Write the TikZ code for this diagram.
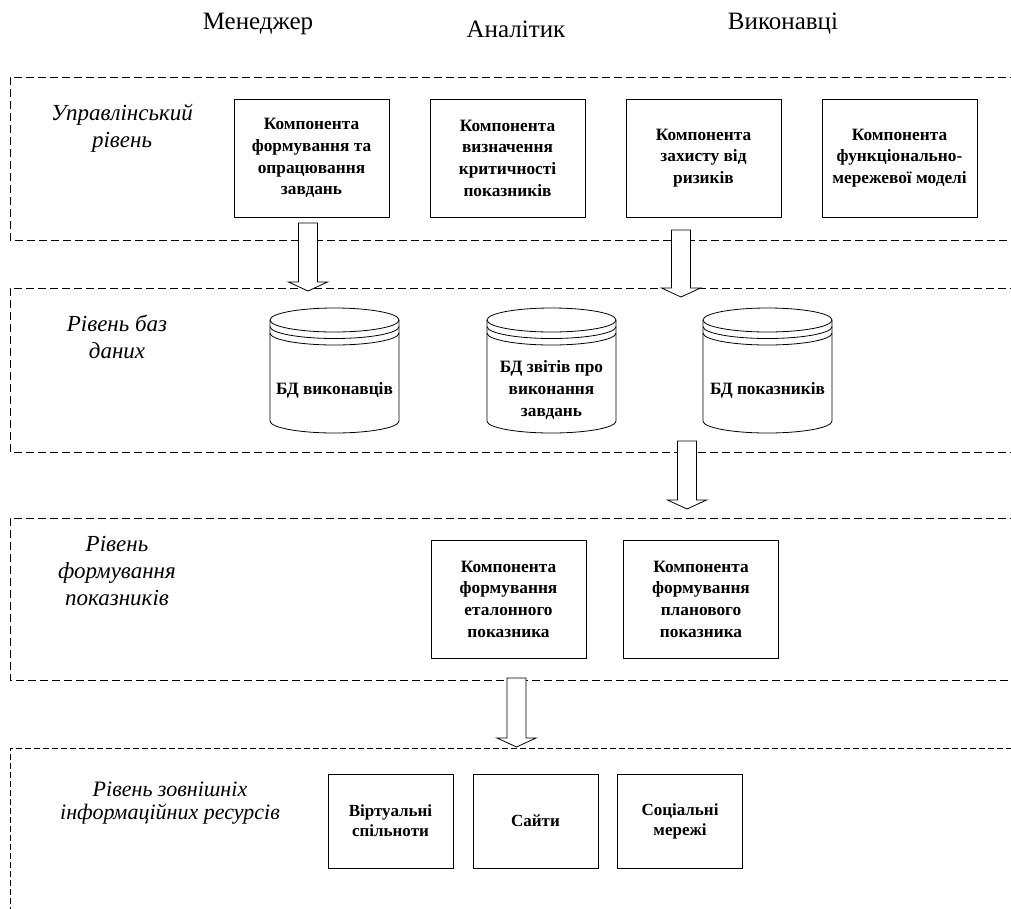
\documentclass[tikz,border=0pt]{standalone}
\usepackage{fontspec}
\setmainfont{Liberation Serif}
\usetikzlibrary{calc}
\newcommand\blkarrow[2]{%
  \draw[blockarr] let \p1=(#1), \p2=(#2) in
    (\x1-9.5pt,\y1) -- (\x1+9.5pt,\y1) -- (\x1+9.5pt,\y2+9pt) -- (\x1+19.5pt,\y2+9pt)
    -- (\x2,\y2) -- (\x1-19.5pt,\y2+9pt) -- (\x1-9.5pt,\y2+9pt) -- cycle;}
\begin{document}
\begin{tikzpicture}[x=1pt,y=-1pt,
  layer/.style={dash pattern=on 8pt off 4pt, line width=0.8pt},
  layerfine/.style={dash pattern=on 6pt off 3pt, line width=0.7pt},
  comp/.style={draw, line width=0.8pt, minimum width=155pt, minimum height=118pt,
    align=center, inner sep=0pt, font=\fontsize{17.3pt}{21.7pt}\selectfont\bfseries},
  small/.style={draw, line width=0.8pt, minimum width=125pt, minimum height=94pt,
    align=center, inner sep=0pt, font=\fontsize{17pt}{20pt}\selectfont\bfseries},
  dbtext/.style={align=center, inner sep=0pt, font=\fontsize{17.3pt}{21.7pt}\selectfont\bfseries},
  lab/.style={align=center, inner sep=0pt, font=\fontsize{23pt}{27pt}\selectfont\itshape},
  labfine/.style={align=center, inner sep=0pt, font=\fontsize{22pt}{23pt}\selectfont\itshape},
  title/.style={inner sep=0pt, font=\fontsize{25pt}{28pt}\selectfont},
  blockarr/.style={draw, fill=white, line width=0.8pt},
  dbcyl/.pic={
    \draw[line width=0.8pt] (-64.5,0) -- (-64.5,101)
      arc[start angle=180, end angle=0, x radius=64.5, y radius=12] -- (64.5,0);
    \draw[line width=0.8pt] (0,0) ellipse[x radius=64.5, y radius=12];
    \draw[line width=0.8pt] (-64.5,6.5) arc[start angle=180, end angle=0, x radius=64.5, y radius=12];
    \draw[line width=0.8pt] (-64.5,13) arc[start angle=180, end angle=0, x radius=64.5, y radius=12];
  }]
\useasboundingbox (0,0) rectangle (1011,908);
\fill[white] (0,0) rectangle (1011,908);

% titles
\node[title] (tman) at (258,24) {Менеджер};
\node[title] (tan)  at (516,29) {Аналітик};
\node[title] (tex)  at (783,24) {Виконавці};

% layer frames
\draw[layer] (1030,77) -- (10,77) -- (10,240) -- (1030,240);
\draw[layer] (1030,288) -- (10,288) -- (10,452) -- (1030,452);
\draw[layer] (1030,518) -- (10,518) -- (10,680) -- (1030,680);
\draw[layerfine] (1030,748) -- (10,748) -- (10,920);

% layer labels
\node[lab] (lab1) at (122,128) {Управлінський\\рівень};
\node[lab] (lab2) at (117,337) {Рівень баз\\даних};
\node[lab] (lab3) at (117,571) {Рівень\\формування\\показників};
\node[labfine] (lab4) at (170,803) {Рівень зовнішніх\\інформаційних ресурсів};

% layer 1 components
\node[comp] (c1) at (311.5,158) {Компонента\\формування та\\опрацювання\\завдань};
\node[comp] (c2) at (507.5,158) {Компонента\\визначення\\критичності\\показників};
\node[comp] (c3) at (703.5,158) {Компонента\\захисту від\\ризиків};
\node[comp] (c4) at (899.5,158) {Компонента\\функціонально-\\мережевої моделі};

% layer 2 databases
\pic at (334.5,320) {dbcyl};
\pic at (551.5,320) {dbcyl};
\pic at (767.5,320) {dbcyl};
\node[dbtext] (db1) at (334.5,390) {БД виконавців};
\node[dbtext] (db2) at (551.5,390) {БД звітів про\\виконання\\завдань};
\node[dbtext] (db3) at (767.5,390) {БД показників};

% layer 3
\node[comp] (f1) at (508.5,599) {Компонента\\формування\\еталонного\\показника};
\node[comp] (f2) at (701,599) {Компонента\\формування\\планового\\показника};

% layer 4
\node[small] (r1) at (390.5,821) {Віртуальні\\спільноти};
\node[small] (r2) at (535.5,821) {Сайти};
\node[small] (r3) at (680,821) {Соціальні\\мережі};

% arrows
\coordinate (a1s) at (308,223); \coordinate (a1e) at (308,291);
\coordinate (a2s) at (681,230); \coordinate (a2e) at (681,297);
\coordinate (a3s) at (687,441); \coordinate (a3e) at (687,509);
\coordinate (a4s) at (516.5,678); \coordinate (a4e) at (516.5,747);
\blkarrow{a1s}{a1e}
\blkarrow{a2s}{a2e}
\blkarrow{a3s}{a3e}
\blkarrow{a4s}{a4e}
\end{tikzpicture}
\end{document}
